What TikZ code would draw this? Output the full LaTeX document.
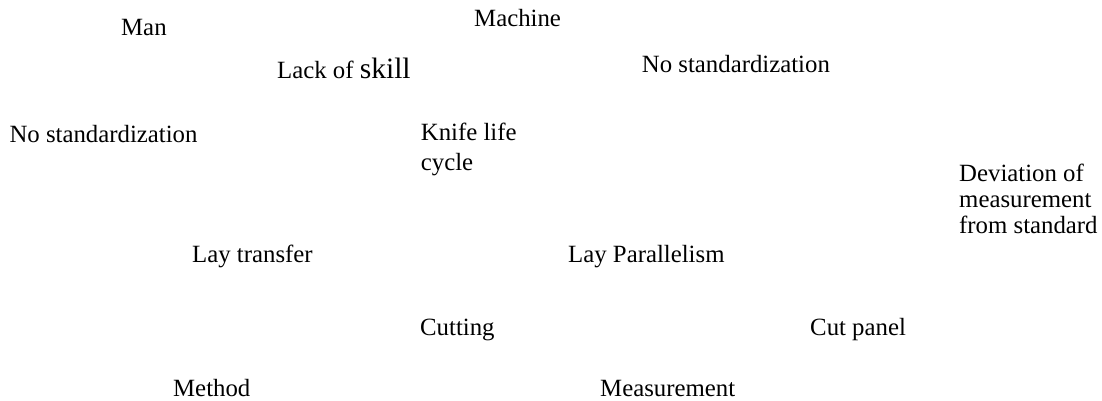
\documentclass[tikz,border=0pt]{standalone}
\usepackage{fontspec}
\setmainfont{Liberation Serif}
\begin{document}
\begin{tikzpicture}[x=1pt,y=1pt,
  lbl/.style={inner sep=0pt, anchor=base west, font=\fontsize{24.8}{26}\selectfont},
  multi/.style={inner sep=0pt, anchor=north west, align=left}]
\useasboundingbox (0,0) rectangle (1102,400);
\node[lbl] (man) at (121,{400-36}) {Man};
\node[lbl] (machine) at (474,{400-26.7}) {Machine};
\node[lbl] (skill) at (277,{400-78.5}) {Lack of {\fontsize{29.5}{30}\selectfont skill}};
\node[lbl] (nostdR) at (641.7,{400-72.3}) {No standardization};
\node[lbl] (nostdL) at (9.3,{400-142.3}) {No standardization};
\node[multi, font=\fontsize{24.8}{30}\selectfont] (knife) at (420.7,{400-139.3+16.9}) {Knife life\\cycle};
\node[multi, font=\fontsize{24.8}{26}\selectfont] (dev) at (959,{400-180.7+16.9}) {Deviation of\\measurement\\from standard};
\node[lbl] (laytr) at (192,{400-262}) {Lay transfer};
\node[lbl] (laypar) at (568,{400-262}) {Lay Parallelism};
\node[lbl] (cutting) at (420,{400-335}) {Cutting};
\node[lbl] (cutpanel) at (810,{400-335}) {Cut panel};
\node[lbl] (method) at (173,{400-396}) {Method};
\node[lbl] (meas) at (600,{400-396}) {Measurement};
\end{tikzpicture}
\end{document}
